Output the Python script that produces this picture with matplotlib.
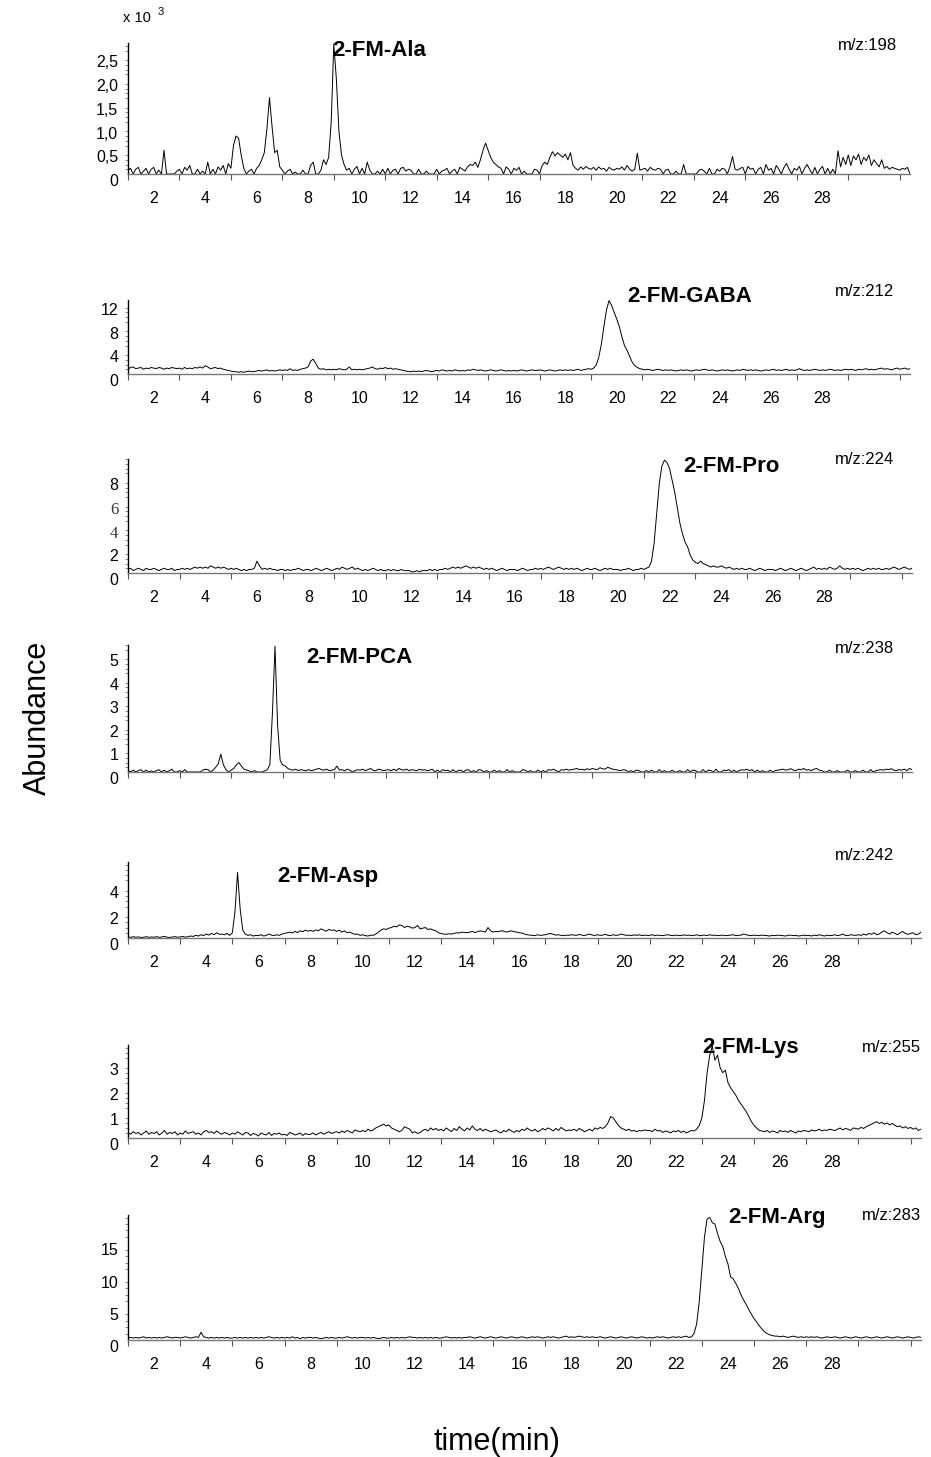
import numpy as np
import matplotlib
matplotlib.use("Agg")
import matplotlib.pyplot as plt

plt.rcParams['font.family'] = ['Liberation Sans', 'DejaVu Sans']

# ---------------- data (sampled every 0.1 min starting at 1.0 min) ----------------
t_start = 1.0
t_step = 0.1

# 2-FM-Ala, m/z 198, abundance in units of 0.01 x 10^3
ala = [8,12,0,10,14,0,6,12,0,10,
       14,0,8,0,50,0,0,0,0,6,
       10,0,14,8,18,0,0,10,0,6,
       0,25,0,10,0,15,8,18,0,22,
       12,60,80,75,40,12,0,6,10,0,
       12,18,30,45,95,161,100,45,50,15,
       8,0,6,10,0,4,0,0,8,0,
       0,18,25,0,0,8,30,20,35,110,
       274,200,90,40,20,8,12,0,10,16,
       0,12,0,25,8,0,0,6,0,10,
       0,12,0,8,10,0,12,14,6,10,
       8,0,0,10,0,0,6,0,0,0,
       10,0,6,8,12,0,6,10,0,14,
       10,6,15,20,18,25,14,30,50,65,
       50,35,25,20,15,12,0,15,10,0,
       12,8,14,0,6,0,0,0,10,8,
       0,18,25,20,35,47,38,45,40,35,
       42,30,45,18,12,8,15,10,16,12,
       10,14,8,15,10,12,6,14,10,8,
       12,10,15,8,18,10,6,10,44,8,
       10,12,6,14,10,8,12,10,0,8,
       10,0,0,6,0,0,20,0,0,0,
       0,0,8,10,6,0,12,0,0,10,
       6,12,10,0,15,37,10,8,12,14,
       0,16,10,12,0,10,14,0,20,8,
       12,0,18,10,0,14,22,10,0,12,
       8,16,0,12,20,10,0,14,0,10,
       16,0,12,0,10,0,49,15,35,20,
       40,18,38,30,42,20,35,28,40,18,
       30,22,15,30,12,16,10,14,12,10,
       8,12,10,14,0]
ala_scale = 100.0

# 2-FM-GABA, m/z 212, units of 0.1
gaba = [8,11,12,9,10,11,8,10,9,11,
        10,9,11,10,8,10,9,11,10,9,
        10,8,11,9,10,9,11,10,12,10,
        14,12,9,10,11,9,10,8,7,6,
        5,4,4,3,4,3,4,5,4,4,
        5,6,5,6,7,5,6,5,6,7,
        6,7,6,9,6,7,6,8,9,10,
        12,22,25,18,10,8,9,7,8,7,
        8,7,9,8,7,8,12,7,8,7,
        8,7,8,9,10,12,9,8,10,9,
        11,9,10,8,9,8,7,6,5,4,
        4,5,4,5,4,5,6,5,4,5,
        6,5,7,6,5,6,5,7,6,5,
        6,5,7,6,8,7,6,7,6,5,
        6,7,6,5,6,7,6,5,6,5,
        6,5,6,7,6,5,6,7,6,6,
        7,6,5,6,7,6,5,6,7,6,
        7,6,7,6,7,8,6,7,8,9,
        8,10,15,28,50,80,108,124,116,104,
        93,80,63,48,40,30,20,14,11,9,
        8,7,8,7,6,7,8,7,6,7,
        6,7,6,5,6,7,6,7,6,5,
        6,7,6,7,8,7,6,7,6,5,
        6,7,6,7,6,5,6,7,6,8,
        7,6,7,6,7,6,5,6,7,6,
        7,8,6,7,6,7,8,6,7,6,
        7,9,7,6,7,6,7,8,7,6,
        7,6,7,8,7,6,7,6,7,8,
        7,8,7,6,8,7,8,9,7,8,
        7,8,9,10,8,9,8,7,9,10,
        8,9,10,8,9]
gaba_scale = 10.0

# 2-FM-Pro, m/z 224, units of 0.1
pro = [3,4,2,3,4,3,2,4,3,3,
       4,3,2,3,4,3,3,4,2,3,
       3,4,3,4,3,4,5,4,5,4,
       5,4,6,5,4,5,4,5,4,3,
       4,3,4,3,2,3,2,3,3,4,
       10,6,3,4,3,4,3,3,2,3,
       3,2,3,2,3,3,4,3,2,3,
       3,2,3,4,3,2,3,4,3,2,
       3,4,3,5,4,3,4,5,3,4,
       3,2,3,2,3,4,3,2,3,2,
       2,3,2,3,2,2,3,2,2,2,
       1,1,2,1,2,2,2,3,2,3,
       2,3,3,4,3,4,5,4,5,4,
       5,6,5,4,5,4,5,4,3,4,
       3,4,3,2,3,4,3,2,3,3,
       3,2,3,4,3,2,3,3,4,3,
       4,3,4,5,4,3,4,5,4,3,
       4,3,4,3,4,3,2,3,4,3,
       3,4,3,2,3,4,3,4,3,3,
       3,2,3,3,4,3,2,3,3,4,
       3,4,5,10,25,50,75,90,95,93,
       88,78,68,55,42,33,26,22,15,11,
       9,8,10,8,7,6,5,6,5,5,
       6,5,4,5,4,3,4,3,4,3,
       3,4,3,2,3,4,3,2,3,3,
       3,2,3,4,3,2,3,4,3,2,
       3,4,3,2,3,4,5,3,4,3,
       4,3,5,4,3,4,6,4,3,4,
       3,4,3,4,3,2,3,4,3,4,
       3,4,3,3,4,3,4,5,4,3,
       4,5,4,3,4]
pro_scale = 10.0

# 2-FM-PCA, m/z 238, units of 0.01
pca = [5,0,8,0,6,10,0,8,0,5,
       0,6,10,0,8,0,5,12,0,0,
       6,0,10,0,0,0,0,0,0,8,
       12,10,0,8,20,35,76,30,10,0,
       8,15,30,40,25,12,8,5,0,6,
       0,0,0,5,10,30,250,535,200,50,
       30,25,15,10,8,12,6,10,8,5,
       10,6,8,12,15,10,8,12,6,8,
       10,25,8,10,5,12,8,0,6,10,
       8,12,6,10,15,8,5,12,10,6,
       8,10,5,12,6,15,10,8,12,6,
       10,8,6,12,8,10,6,8,12,0,
       8,0,10,6,8,0,10,0,6,8,
       0,8,10,0,6,0,10,8,0,6,
       0,0,8,0,6,0,0,10,0,6,
       0,0,0,10,8,0,6,0,0,8,
       0,6,0,10,8,12,6,0,10,8,
       12,8,10,12,15,10,12,8,14,10,
       15,12,10,18,14,12,20,16,12,10,
       8,6,10,8,0,6,0,8,6,0,
       0,6,0,8,0,0,10,0,6,0,
       0,8,0,0,6,0,0,10,0,8,
       6,0,0,10,0,8,6,0,12,0,
       0,8,6,10,0,8,0,6,10,8,
       12,6,10,0,8,0,6,0,0,8,
       0,6,8,10,12,8,10,14,8,6,
       12,10,15,8,10,6,12,15,8,6,
       0,0,8,0,0,6,0,0,0,8,
       0,0,6,0,0,8,0,0,10,0,
       6,8,10,8,12,10,14,8,6,10,
       8,12,6,15,10]
pca_scale = 100.0

# 2-FM-Asp, m/z 242, units of 0.01
asp = [8,5,10,6,8,4,6,10,5,8,
       6,10,5,8,12,6,4,8,10,6,
       8,12,6,10,15,12,20,15,25,18,
       30,22,35,25,40,28,30,25,35,20,
       40,200,500,220,60,30,20,25,15,20,
       18,25,15,20,30,22,18,25,20,30,
       35,40,45,38,50,42,55,48,60,52,
       58,50,62,55,70,60,52,65,58,62,
       50,60,45,55,40,45,35,28,30,20,
       25,18,15,22,20,30,45,60,70,65,
       75,80,90,85,100,95,80,90,85,75,
       80,95,70,75,80,65,70,60,55,40,
       35,30,28,32,30,35,40,38,45,42,
       40,45,50,42,48,55,50,45,80,55,
       45,50,48,55,52,45,50,55,48,45,
       40,38,30,25,22,20,18,25,20,22,
       25,30,35,28,22,25,20,18,22,20,
       25,22,20,28,22,18,25,30,22,20,
       25,20,22,28,20,18,25,20,22,30,
       25,20,22,18,24,20,25,18,22,20,
       20,25,18,22,20,18,22,25,20,18,
       22,20,18,24,20,22,18,20,25,18,
       20,22,18,25,20,22,18,20,22,18,
       20,22,25,18,20,22,30,25,20,18,
       22,20,18,22,20,18,15,20,18,22,
       20,18,15,20,22,18,20,15,18,22,
       18,20,15,22,18,25,20,15,22,18,
       20,25,18,22,30,20,18,25,22,20,
       25,20,30,22,35,28,40,25,30,45,
       55,40,30,45,35,25,40,50,35,28,
       35,40,25,30,45]
asp_scale = 100.0

# 2-FM-Lys, m/z 255, units of 0.01
lys = [20,15,25,18,22,12,20,28,15,22,
       18,25,12,20,30,15,22,18,25,12,
       20,15,28,18,22,25,15,20,12,25,
       30,22,25,18,28,20,15,22,18,12,
       20,15,25,18,12,22,20,10,18,15,
       8,20,15,12,22,10,18,15,20,12,
       15,10,22,18,12,15,20,10,18,14,
       15,20,12,18,22,15,20,25,18,22,
       25,20,28,22,30,25,20,32,28,25,
       30,25,35,28,32,40,45,50,55,48,
       52,40,35,30,25,30,45,40,35,20,
       25,18,22,30,35,28,40,32,38,30,
       35,28,40,32,25,38,30,45,35,28,
       40,32,48,35,30,38,28,35,30,25,
       28,32,25,20,30,25,35,28,22,30,
       25,35,30,40,32,28,35,25,30,38,
       32,40,35,28,38,30,42,35,28,32,
       30,35,28,38,32,25,30,35,28,40,
       35,42,38,45,60,85,80,65,50,40,
       35,30,35,28,30,25,30,28,32,30,
       30,25,35,28,30,22,28,25,20,28,
       25,30,22,28,20,25,30,28,35,50,
       80,150,260,330,365,310,330,280,260,270,
       220,200,185,170,150,135,120,105,85,65,
       50,40,30,28,25,30,22,28,25,20,
       30,25,28,22,30,25,20,28,25,30,
       28,25,32,28,30,35,28,32,30,35,
       32,30,35,40,32,38,35,30,40,38,
       35,42,38,45,50,55,60,65,58,62,
       55,60,52,58,50,45,48,40,45,38,
       42,35,40,30,35]
lys_scale = 100.0

# 2-FM-Arg, m/z 283, units of 0.1
arg = [3,4,3,4,3,4,5,3,4,3,
       4,3,4,3,4,5,4,3,4,4,
       3,4,5,4,3,4,5,4,12,5,
       4,3,4,3,4,3,4,3,4,3,
       3,4,3,4,3,4,3,4,3,4,
       3,4,3,4,5,4,3,4,3,4,
       3,4,3,5,3,4,2,4,3,4,
       4,3,4,3,2,3,4,3,4,3,
       3,4,3,4,5,4,3,4,3,4,
       4,3,4,3,4,3,2,3,4,3,
       3,4,3,4,3,4,3,4,5,4,
       4,3,4,3,4,3,4,3,4,3,
       3,4,5,4,3,4,3,4,3,4,
       4,5,4,3,4,5,4,3,4,5,
       4,3,4,5,4,3,4,5,4,3,
       4,5,4,3,4,5,4,5,4,3,
       4,5,4,5,4,3,4,5,6,4,
       5,4,5,6,5,4,5,4,5,4,
       4,5,4,3,4,5,4,3,4,5,
       4,3,4,5,4,3,4,5,4,3,
       4,3,4,5,4,5,4,3,4,5,
       4,5,4,5,6,4,5,10,25,60,
       110,160,188,190,182,180,165,153,145,130,
       118,98,95,88,80,70,62,55,47,40,
       33,28,22,17,13,10,8,7,6,6,
       5,6,5,4,5,6,5,4,5,4,
       5,4,5,4,5,4,3,4,5,4,
       4,5,4,3,4,5,4,3,4,5,
       4,3,4,5,4,3,4,5,4,3,
       4,5,4,3,4,5,4,3,4,5,
       4,3,4,5,4]
arg_scale = 10.0

compounds = ["2-FM-Ala", "2-FM-GABA", "2-FM-Pro", "2-FM-PCA", "2-FM-Asp", "2-FM-Lys", "2-FM-Arg"]
mz_labels = ["m/z:198", "m/z:212", "m/z:224", "m/z:238", "m/z:242", "m/z:255", "m/z:283"]
series = [(ala, ala_scale), (gaba, gaba_scale), (pro, pro_scale), (pca, pca_scale),
          (asp, asp_scale), (lys, lys_scale), (arg, arg_scale)]

y_ticks = [[0, 0.5, 1.0, 1.5, 2.0, 2.5], [0, 4, 8, 12], [0, 2, 4, 6, 8],
           [0, 1, 2, 3, 4, 5], [0, 2, 4], [0, 1, 2, 3], [0, 5, 10, 15]]
y_ticklabels = [["0", "0,5", "1,0", "1,5", "2,0", "2,5"], ["0", "4", "8", "12"],
                ["0", "2", "4", "6", "8"], ["0", "1", "2", "3", "4", "5"],
                ["0", "2", "4"], ["0", "1", "2", "3"], ["0", "5", "10", "15"]]
y_tops = [2.76, 12.5, 9.6, 5.4, 5.8, 3.7, 19.4]
x_ticks = list(range(2, 30, 2))
x_minor = list(range(1, 32, 2))
x_range = (1.0, 31.4)

# ---------------- layout (pixels) ----------------
W, H = 931, 1457
# left, right, top, bottom of each panel
boxes = [(128, 910, 43, 174), (128, 910, 300, 374), (128, 912, 459, 573),
         (128, 912, 645, 772), (128, 921, 862, 938), (128, 921, 1045, 1138),
         (128, 921, 1215, 1340)]
name_pos = [(332, 50), (627, 296), (683, 466), (306, 657), (277, 877), (702, 1047), (728, 1218)]
mz_pos = [(838, 45), (835, 291), (835, 460), (835, 649), (835, 856), (862, 1047), (862, 1215)]
show_xlabels = [True, True, True, False, True, True, True]

fig = plt.figure(figsize=(W / 100, H / 100), dpi=100)

for i, ((vals, sc), box) in enumerate(zip(series, boxes)):
    l, r, tp, bt = box
    ax = fig.add_axes([l / W, 1 - bt / H, (r - l) / W, (bt - tp) / H])
    y = np.array(vals, dtype=float) / sc
    t = t_start + t_step * np.arange(len(y))
    ax.plot(t, y, color='black', lw=0.7)
    ax.set_xlim(*x_range)
    ax.set_ylim(0, y_tops[i])
    for s in ['top', 'right']:
        ax.spines[s].set_visible(False)
    ax.spines['left'].set_linewidth(1.0)
    ax.spines['left'].set_color('black')
    ax.spines['bottom'].set_linewidth(1.0)
    ax.spines['bottom'].set_color('#777777')
    # x ticks
    ax.set_xticks(x_ticks)
    if show_xlabels[i]:
        ax.set_xticklabels([str(v) for v in x_ticks], fontsize=11.5)
    else:
        ax.set_xticklabels([])
    ax.set_xticks(x_minor, minor=True)
    ax.tick_params(axis='x', which='major', length=0, pad=12)
    ax.tick_params(axis='x', which='minor', length=4, width=0.8, color='#555555', direction='out')
    # y ticks
    ax.set_yticks(y_ticks[i])
    ax.set_yticklabels(y_ticklabels[i], fontsize=11.5)
    ax.tick_params(axis='y', which='major', length=0, pad=7)
    for lab in ax.get_yticklabels():
        lab.set_va('top')
    if i == 2:
        for lab in ax.get_yticklabels():
            if lab.get_text() in ("4", "6"):
                lab.set_family(['Liberation Serif', 'DejaVu Serif'])
                lab.set_color('#333333')
                lab.set_fontsize(12)
    ax.yaxis.set_minor_locator(matplotlib.ticker.AutoMinorLocator(5))
    ax.tick_params(axis='y', which='minor', length=2, width=0.6, color='#777777', direction='out')
    ax.set_facecolor('none')

    nx, ny = name_pos[i]
    fig.text(nx / W, 1 - ny / H, compounds[i], fontsize=16, fontweight='bold',
             ha='left', va='center')
    mx, my = mz_pos[i]
    fig.text(mx / W, 1 - my / H, mz_labels[i], fontsize=12, ha='left', va='center')

fig.text(123 / W, 1 - 18 / H, "x 10", fontsize=10.5, ha='left', va='center')
fig.text(158 / W, 1 - 12 / H, "3", fontsize=8, ha='left', va='center')
fig.text(38 / W, 1 - 718 / H, "Abundance", fontsize=22, rotation=90, ha='center', va='center')
fig.text(497 / W, 1 - 1442 / H, "time(min)", fontsize=22, ha='center', va='center')

fig.savefig("out.png", dpi=100)
